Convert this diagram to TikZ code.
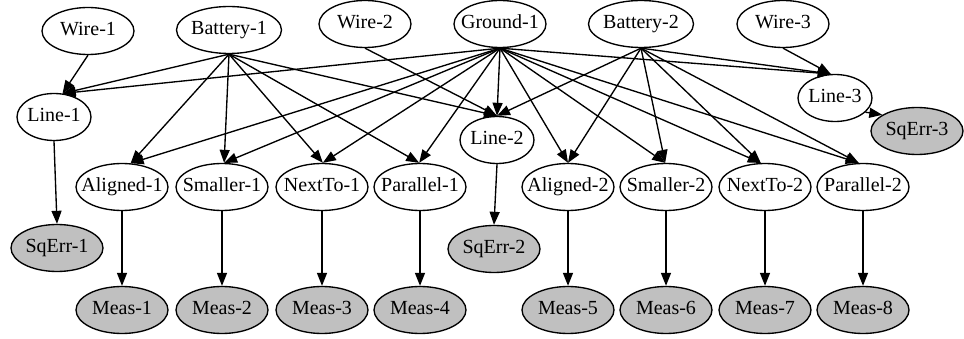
\documentclass[tikz,border=0pt]{standalone}
\usepackage{fontspec}
\setmainfont{Liberation Serif}
\usetikzlibrary{shapes.geometric,arrows.meta}
\definecolor{obsgray}{HTML}{C0C0C0}
\begin{document}
\begin{tikzpicture}[x=1pt,y=-1pt,
  bn/.style={ellipse,draw,line width=1.35pt,inner sep=0pt,minimum width=92pt,minimum height=47pt,
    text height=13.5pt,text depth=4pt,font=\fontsize{20}{23}\selectfont},
  obs/.style={bn,fill=obsgray},
  batt/.style={bn,minimum width=105pt},
  lin/.style={bn,minimum width=74pt},
  edge/.style={-{Triangle[length=13pt,width=10pt]},line width=1.35pt}]
\useasboundingbox (0,0) rectangle (964,339);
% top row
\node[bn]   (w1) at (88,31)  {\makebox[0pt]{Wire-1}};
\node[batt] (b1) at (229,30) {\makebox[0pt]{Battery-1}};
\node[bn]   (w2) at (365,24) {\makebox[0pt]{Wire-2}};
\node[bn]   (g1) at (500,24) {\makebox[0pt]{Ground-1}};
\node[batt] (b2) at (641,24) {\makebox[0pt]{Battery-2}};
\node[bn]   (w3) at (783,24) {\makebox[0pt]{Wire-3}};
% lines
\node[lin] (l1) at (54,117)  {\makebox[0pt]{Line-1}};
\node[lin] (l2) at (497,140) {\makebox[0pt]{Line-2}};
\node[lin] (l3) at (835,98)  {\makebox[0pt]{Line-3}};
% squared errors
\node[obs] (q1) at (57,248)  {\makebox[0pt]{SqErr-1}};
\node[obs] (q2) at (494,249) {\makebox[0pt]{SqErr-2}};
\node[obs] (q3) at (917,131) {\makebox[0pt]{SqErr-3}};
% relations
\node[bn] (a1) at (122,187) {\makebox[0pt]{Aligned-1}};
\node[bn] (s1) at (222,187) {\makebox[0pt]{Smaller-1}};
\node[bn] (n1) at (322,187) {\makebox[0pt]{NextTo-1}};
\node[bn] (p1) at (420,187) {\makebox[0pt]{Parallel-1}};
\node[bn] (a2) at (568,187) {\makebox[0pt]{Aligned-2}};
\node[bn] (s2) at (666,187) {\makebox[0pt]{Smaller-2}};
\node[bn] (n2) at (765,187) {\makebox[0pt]{NextTo-2}};
\node[bn] (p2) at (863,187) {\makebox[0pt]{Parallel-2}};
% measurements
\node[obs] (m1) at (122,310) {\makebox[0pt]{Meas-1}};
\node[obs] (m2) at (222,310) {\makebox[0pt]{Meas-2}};
\node[obs] (m3) at (322,310) {\makebox[0pt]{Meas-3}};
\node[obs] (m4) at (420,310) {\makebox[0pt]{Meas-4}};
\node[obs] (m5) at (568,310) {\makebox[0pt]{Meas-5}};
\node[obs] (m6) at (666,310) {\makebox[0pt]{Meas-6}};
\node[obs] (m7) at (765,310) {\makebox[0pt]{Meas-7}};
\node[obs] (m8) at (863,310) {\makebox[0pt]{Meas-8}};
% edges into lines
\draw[edge] (w1.south) -- (l1.70);
\draw[edge] (b1.south) -- (l1.70);
\draw[edge] (g1.south) -- (l1.70);
\draw[edge] (w2.south) -- (l2.north);
\draw[edge] (b1.south) -- (l2.north);
\draw[edge] (g1.south) -- (l2.north);
\draw[edge] (b2.south) -- (l2.north);
\draw[edge] (w3.south) -- (l3.100);
\draw[edge] (g1.south) -- (l3.100);
\draw[edge] (b2.south) -- (l3.100);
% edges into relations
\foreach \c/\a in {a1/70,s1/85,n1/88,p1/92} {
  \draw[edge] (b1.south) -- (\c.\a);
  \draw[edge] (g1.south) -- (\c.\a);
}
\foreach \c/\a in {a2/90,s2/92,n2/100,p2/100} {
  \draw[edge] (g1.south) -- (\c.\a);
  \draw[edge] (b2.south) -- (\c.\a);
}
% edges to observations
\draw[edge] (l1.south) -- (q1.north);
\draw[edge] (l2.south) -- (q2.north);
\draw[edge] (l3.-25) -- (q3.155);
\foreach \r/\m in {a1/m1,s1/m2,n1/m3,p1/m4,a2/m5,s2/m6,n2/m7,p2/m8}
  \draw[edge] (\r.south) -- (\m.north);
\end{tikzpicture}
\end{document}
